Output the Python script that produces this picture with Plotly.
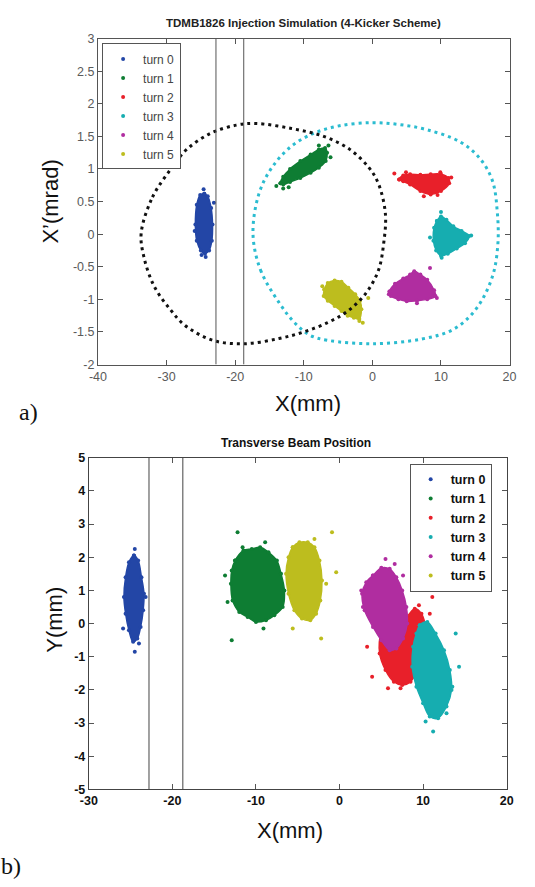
import plotly.graph_objects as go

# ---------------- data ----------------
TURNS = ["turn 0", "turn 1", "turn 2", "turn 3", "turn 4", "turn 5"]
COLORS = ["#2346a6", "#0e7d33", "#e8202a", "#16adb0", "#b02da0", "#bdbd1e"]
SEPTUM_X = [-22.8, -18.75]

# panel a) phase space  X (mm) vs X' (mrad): cloud outlines + stray particles
PS_T0_X = [-24.5, -24.0, -23.5, -23.3, -23.4, -23.8, -24.4, -25.0, -25.6, -25.8, -25.6, -25.1]
PS_T0_Y = [0.62, 0.58, 0.40, 0.15, -0.10, -0.25, -0.30, -0.25, -0.10, 0.15, 0.45, 0.60]
PS_T0_OX = [-24.6, -24.3, -23.1, -25.9, -24.9]
PS_T0_OY = [0.69, -0.35, 0.48, 0.05, -0.32]

PS_T1_X = [-13.4, -13.0, -12.0, -10.5, -9.0, -7.8, -6.9, -6.6, -6.8, -7.8, -9.0, -10.5, -12.0, -13.0]
PS_T1_Y = [0.78, 0.88, 1.00, 1.12, 1.22, 1.30, 1.32, 1.25, 1.12, 1.02, 0.94, 0.86, 0.80, 0.76]
PS_T1_OX = [-14.0, -6.1, -6.4, -12.2, -7.8, -13.0]
PS_T1_OY = [0.74, 1.18, 1.36, 0.72, 1.36, 0.70]

PS_T2_X = [3.9, 4.5, 5.5, 7.0, 8.5, 10.0, 11.1, 11.2, 10.0, 8.5, 7.0, 5.5, 4.5]
PS_T2_Y = [0.84, 0.90, 0.92, 0.91, 0.92, 0.92, 0.86, 0.78, 0.66, 0.61, 0.66, 0.76, 0.81]
PS_T2_OX = [3.2, 11.5, 7.5, 9.5, 4.9, 9.9]
PS_T2_OY = [0.93, 0.87, 0.58, 0.60, 0.95, 0.95]

PS_T3_X = [9.4, 10.0, 10.8, 11.8, 13.0, 14.1, 13.5, 12.3, 11.0, 10.0, 9.3, 8.9, 9.0]
PS_T3_Y = [0.20, 0.27, 0.22, 0.12, 0.05, -0.03, -0.14, -0.22, -0.30, -0.33, -0.25, -0.10, 0.10]
PS_T3_OX = [10.0, 8.4, 14.4, 10.1]
PS_T3_OY = [0.34, -0.05, -0.02, -0.36]

PS_T4_X = [2.5, 3.3, 4.5, 5.5, 6.1, 7.0, 8.0, 9.0, 9.2, 8.0, 6.5, 5.0, 3.8, 2.7]
PS_T4_Y = [-0.88, -0.76, -0.68, -0.62, -0.57, -0.62, -0.70, -0.86, -0.95, -1.00, -1.02, -1.03, -1.00, -0.95]
PS_T4_OX = [8.4, 9.4, 2.4, 6.5]
PS_T4_OY = [-0.52, -0.98, -0.92, -1.06]

PS_T5_X = [-7.0, -6.5, -5.5, -4.5, -3.5, -2.5, -1.8, -1.6, -1.9, -2.7, -3.6, -4.5, -5.5, -6.5, -7.1]
PS_T5_Y = [-0.85, -0.75, -0.71, -0.73, -0.82, -0.92, -1.02, -1.15, -1.30, -1.28, -1.25, -1.18, -1.10, -1.02, -0.95]
PS_T5_OX = [-0.6, -1.4, -7.3, -1.9]
PS_T5_OY = [-0.98, -1.36, -0.80, -1.33]

# acceptance ellipses read from panel a)
ELL_BLACK_X = [-33.7, -32.05, -29.23, -27.11, -23.59, -19.83, -17.01, -11.8, -7.1, -3.3, -0.5, 0.9,
               1.9, 1.65, 0.9, -0.9, -3.6, -6.4, -10.0, -13.6, -18.6, -23.2, -27.3, -29.5, -31.8, -33.3]
ELL_BLACK_Y = [0.015, 0.567, 1.019, 1.295, 1.546, 1.672, 1.697, 1.62, 1.50, 1.30, 1.02, 0.77,
               0.31, -0.14, -0.55, -0.90, -1.18, -1.35, -1.50, -1.60, -1.68, -1.63, -1.40, -1.15, -0.80, -0.35]
ELL_CYAN_X = [-17.4, -16.3, -13.6, -11.4, -9.1, -6.4, 0.0, 7.1, 11.8, 15.1, 17.5,
              18.3, 18.2, 17.5, 15.6, 12.7, 8.0, 4.0, 0.0, -4.79, -8.55, -11.84, -14.66, -16.54]
ELL_CYAN_Y = [0.0, -0.55, -1.05, -1.35, -1.55, -1.63, -1.68, -1.61, -1.46, -1.15, -0.65,
              -0.14, 0.35, 0.82, 1.17, 1.42, 1.60, 1.68, 1.71, 1.662, 1.546, 1.345, 1.019, 0.617]

# panel b) transverse position X (mm) vs Y (mm)
TB_T0_X = [-24.6, -24.1, -23.7, -23.4, -23.5, -23.8, -24.2, -24.7, -25.2, -25.6, -25.8, -25.6, -25.2]
TB_T0_Y = [2.05, 1.90, 1.40, 0.90, 0.40, -0.10, -0.45, -0.55, -0.20, 0.30, 0.80, 1.40, 1.85]
TB_T0_OX = [-24.5, -24.5, -23.2, -25.9, -24.0]
TB_T0_OY = [2.25, -0.85, 0.80, -0.15, -0.60]

TB_T1_X = [-12.5, -11.5, -10.5, -9.5, -8.5, -7.5, -7.0, -6.6, -6.8, -7.8, -8.8, -10.0, -11.0, -12.0, -12.8, -13.0, -12.9]
TB_T1_Y = [1.90, 2.20, 2.25, 2.30, 2.15, 1.90, 1.50, 1.00, 0.50, 0.25, 0.10, 0.05, 0.20, 0.35, 0.70, 1.20, 1.60]
TB_T1_OX = [-12.2, -13.7, -12.9, -13.4, -9.1, -11.6, -8.9]
TB_T1_OY = [2.75, 1.45, -0.50, 0.65, -0.15, 2.30, 2.45]

TB_T2_X = [8.0, 9.0, 9.8, 10.3, 10.0, 9.3, 8.5, 7.5, 6.5, 5.5, 4.8, 5.0, 6.0, 7.0]
TB_T2_Y = [0.20, 0.45, 0.30, -0.20, -0.80, -1.40, -1.75, -1.85, -1.75, -1.40, -0.90, -0.30, 0.00, 0.10]
TB_T2_OX = [11.1, 3.3, 3.9, 5.8, 7.3, 9.5, 10.8]
TB_T2_OY = [0.80, -0.70, -1.60, -1.95, -1.95, 0.55, 0.30]

TB_T3_X = [9.6, 10.5, 11.5, 12.5, 13.2, 13.4, 12.8, 11.8, 10.8, 10.0, 9.2, 8.7, 8.8, 9.2]
TB_T3_Y = [-0.05, 0.05, -0.30, -0.80, -1.40, -2.00, -2.50, -2.85, -2.80, -2.40, -1.90, -1.30, -0.70, -0.30]
TB_T3_OX = [11.2, 14.3, 13.9, 12.8, 10.3, 13.5]
TB_T3_OY = [-3.25, -1.30, -0.30, -2.70, -2.95, -1.90]

TB_T4_X = [4.0, 5.0, 6.0, 6.8, 7.5, 8.0, 8.1, 7.6, 6.8, 6.0, 5.0, 4.0, 3.0, 2.7, 3.2]
TB_T4_Y = [1.45, 1.68, 1.65, 1.40, 1.00, 0.50, 0.00, -0.45, -0.75, -0.80, -0.50, -0.10, 0.40, 0.90, 1.25]
TB_T4_OX = [5.5, 6.6, 7.6, 2.6, 2.8]
TB_T4_OY = [1.95, 1.80, 1.45, 1.00, 0.50]

TB_T5_X = [-5.6, -4.8, -3.8, -3.0, -2.4, -2.1, -2.3, -2.8, -3.5, -4.5, -5.4, -6.1, -6.4, -6.1]
TB_T5_Y = [2.30, 2.45, 2.45, 2.30, 1.90, 1.30, 0.70, 0.30, 0.10, 0.15, 0.40, 0.90, 1.50, 2.00]
TB_T5_OX = [-0.9, -0.4, -5.6, -2.2, -3.0, -1.6]
TB_T5_OY = [2.75, 1.55, -0.15, -0.45, 2.55, 1.20]

# axes
A_XTICKS = [-40, -30, -20, -10, 0, 10, 20]
A_XTEXT = ["-40", "-30", "-20", "-10", "0", "10", "20"]
A_YTICKS = [-2, -1.5, -1, -0.5, 0, 0.5, 1, 1.5, 2, 2.5, 3]
A_YTEXT = ["-2", "-1.5", "-1", "-0.5", "0", "0.5", "1", "1.5", "2", "2.5", "3"]
B_XTICKS = [-30, -20, -10, 0, 10, 20]
B_XTEXT = ["-30", "-20", "-10", "0", "10", "20"]
B_YTICKS = [-5, -4, -3, -2, -1, 0, 1, 2, 3, 4, 5]
B_YTEXT = ["-5", "-4", "-3", "-2", "-1", "0", "1", "2", "3", "4", "5"]

PS_CLOUDS = [(PS_T0_X, PS_T0_Y, PS_T0_OX, PS_T0_OY), (PS_T1_X, PS_T1_Y, PS_T1_OX, PS_T1_OY),
             (PS_T2_X, PS_T2_Y, PS_T2_OX, PS_T2_OY), (PS_T3_X, PS_T3_Y, PS_T3_OX, PS_T3_OY),
             (PS_T4_X, PS_T4_Y, PS_T4_OX, PS_T4_OY), (PS_T5_X, PS_T5_Y, PS_T5_OX, PS_T5_OY)]
TB_CLOUDS = [(TB_T0_X, TB_T0_Y, TB_T0_OX, TB_T0_OY), (TB_T1_X, TB_T1_Y, TB_T1_OX, TB_T1_OY),
             (TB_T2_X, TB_T2_Y, TB_T2_OX, TB_T2_OY), (TB_T3_X, TB_T3_Y, TB_T3_OX, TB_T3_OY),
             (TB_T4_X, TB_T4_Y, TB_T4_OX, TB_T4_OY), (TB_T5_X, TB_T5_Y, TB_T5_OX, TB_T5_OY)]

fig = go.Figure()


def closed(v):
    return list(v) + [v[0]]


def add_clouds(clouds, xa, ya, legend):
    for i, (cx, cy, ox, oy) in enumerate(clouds):
        fig.add_trace(go.Scatter(
            x=closed(cx), y=closed(cy), xaxis=xa, yaxis=ya, mode="lines+markers",
            line=dict(color=COLORS[i], width=1.5, shape="spline", smoothing=1.0),
            marker=dict(color=COLORS[i], size=4),
            fill="toself", fillcolor=COLORS[i], showlegend=False, hoverinfo="skip"))
        fig.add_trace(go.Scatter(
            x=ox, y=oy, xaxis=xa, yaxis=ya, mode="markers", name=TURNS[i],
            marker=dict(color=COLORS[i], size=4), legend=legend))


add_clouds(PS_CLOUDS, "x", "y", "legend")

# acceptance ellipses (dotted)
fig.add_trace(go.Scatter(x=closed(ELL_CYAN_X), y=closed(ELL_CYAN_Y), mode="lines",
                         line=dict(color="#2bbcd0", width=3, dash="3px,4px", shape="spline"),
                         showlegend=False, hoverinfo="skip"))
fig.add_trace(go.Scatter(x=closed(ELL_BLACK_X), y=closed(ELL_BLACK_Y), mode="lines",
                         line=dict(color="#111111", width=3, dash="3px,4px", shape="spline"),
                         showlegend=False, hoverinfo="skip"))

for sx in SEPTUM_X:
    fig.add_trace(go.Scatter(x=[sx, sx], y=[A_YTICKS[0], A_YTICKS[-1]], mode="lines",
                             line=dict(color="#555555", width=1), showlegend=False, hoverinfo="skip"))

add_clouds(TB_CLOUDS, "x2", "y2", "legend2")
for sx in SEPTUM_X:
    fig.add_trace(go.Scatter(x=[sx, sx], y=[B_YTICKS[0], B_YTICKS[-1]], xaxis="x2", yaxis="y2",
                             mode="lines", line=dict(color="#444444", width=1),
                             showlegend=False, hoverinfo="skip"))

FONT = "Liberation Sans, Arial, sans-serif"
axis_common = dict(showgrid=False, zeroline=False, ticks="inside", ticklen=5, mirror="ticks",
                   showline=True, linewidth=1, tickcolor="#555555")

fig.update_layout(
    width=535, height=887, margin=dict(l=0, r=0, t=0, b=0),
    paper_bgcolor="white", plot_bgcolor="white",
    font=dict(family=FONT),
    xaxis=dict(domain=[0.1714, 0.9645], range=[-40, 20], anchor="y",
               tickvals=A_XTICKS, ticktext=A_XTEXT, linecolor="#555555",
               tickfont=dict(size=12.5, color="#5a5a5a"), **axis_common),
    yaxis=dict(domain=[0.5904, 0.9639], range=[-2, 3], anchor="x",
               tickvals=A_YTICKS, ticktext=A_YTEXT, linecolor="#555555",
               tickfont=dict(size=12.5, color="#5a5a5a"), **axis_common),
    xaxis2=dict(domain=[0.1538, 0.9589], range=[-30, 20], anchor="y2",
                tickvals=B_XTICKS, ticktext=B_XTEXT, linecolor="#444444",
                tickfont=dict(size=12.5, color="#111111", weight="bold"), **axis_common),
    yaxis2=dict(domain=[0.1037, 0.4837], range=[-5, 5], anchor="x2",
                tickvals=B_YTICKS, ticktext=B_YTEXT, linecolor="#444444",
                tickfont=dict(size=12.5, color="#111111", weight="bold"), **axis_common),
    legend=dict(x=0.1794, y=0.9583, xanchor="left", yanchor="top",
                bgcolor="white", bordercolor="#555555", borderwidth=1,
                font=dict(size=12, color="#444444")),
    legend2=dict(x=0.772, y=0.4769, xanchor="left", yanchor="top",
                 bgcolor="white", bordercolor="#555555", borderwidth=1,
                 font=dict(size=12.5, color="#111111", weight="bold")),
    showlegend=True,
)

ann = [
    dict(text="<b>TDMB1826 Injection Simulation (4-Kicker Scheme)</b>", x=304, y=16, size=11.5, color="#222222"),
    dict(text="X’(mrad)", x=43, y=198, size=22, color="#111111", angle=-90),
    dict(text="X(mm)", x=308, y=403, size=22, color="#111111"),
    dict(text="<b>Transverse Beam Position</b>", x=296, y=443, size=12, color="#111111"),
    dict(text="Y(mm)", x=47, y=623, size=22, color="#111111", angle=-90),
    dict(text="X(mm)", x=290, y=837, size=22, color="#111111"),
]
for a in ann:
    fig.add_annotation(text=a["text"], xref="paper", yref="paper",
                       x=a["x"] / 535, y=1 - a["y"] / 887, xanchor="center", yanchor="middle",
                       showarrow=False, textangle=a.get("angle", 0),
                       font=dict(size=a["size"], color=a["color"], family=FONT))

fig.add_annotation(text="a)", xref="paper", yref="paper", x=8 / 535, y=1 - 412 / 887,
                   xanchor="left", yanchor="middle", showarrow=False,
                   font=dict(size=24, color="#111111", family="Liberation Serif, serif"))
fig.add_annotation(text="b)", xref="paper", yref="paper", x=14 / 535, y=1 - 873 / 887,
                   xanchor="right", yanchor="middle", showarrow=False,
                   font=dict(size=24, color="#111111", family="Liberation Serif, serif"))

fig.write_html("out.html", config={"displayModeBar": False},
               post_script="document.body.style.margin='0';document.body.style.overflow='hidden';")
